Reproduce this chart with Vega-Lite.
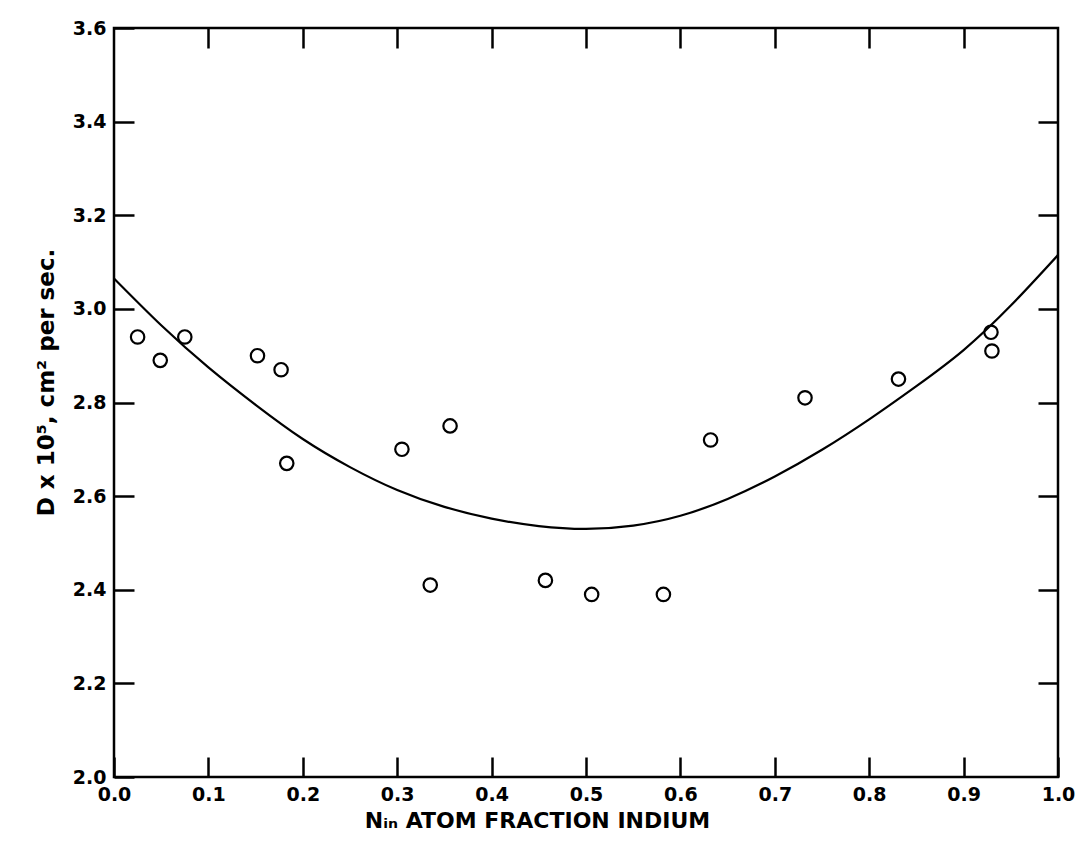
{
  "$schema": "https://vega.github.io/schema/vega-lite/v6.json",
  "autosize": {"type": "none"},
  "padding": {"left": 114, "top": 28, "right": 20, "bottom": 73},
  "width": 944,
  "height": 749,
  "background": "white",
  "config": {
    "view": {"stroke": "black", "strokeWidth": 2.5},
    "axis": {
      "grid": false,
      "domain": false,
      "tickColor": "black",
      "tickWidth": 2.5,
      "tickSize": -20,
      "labelFlush": false,
      "labelFont": "DejaVu Sans",
      "labelFontWeight": "bold",
      "labelFontSize": 19,
      "labelColor": "black",
      "titleFont": "DejaVu Sans",
      "titleFontWeight": "bold",
      "titleColor": "black"
    }
  },
  "datasets": {
    "curve": [
      {"x": 0.0, "d": 3.065},
      {"x": 0.05, "d": 2.965},
      {"x": 0.1, "d": 2.875},
      {"x": 0.15, "d": 2.795},
      {"x": 0.2, "d": 2.722},
      {"x": 0.25, "d": 2.662},
      {"x": 0.3, "d": 2.613},
      {"x": 0.35, "d": 2.577},
      {"x": 0.4, "d": 2.552},
      {"x": 0.45, "d": 2.536},
      {"x": 0.5, "d": 2.53},
      {"x": 0.55, "d": 2.537},
      {"x": 0.6, "d": 2.558},
      {"x": 0.65, "d": 2.594},
      {"x": 0.7, "d": 2.642},
      {"x": 0.75, "d": 2.699},
      {"x": 0.8, "d": 2.764},
      {"x": 0.85, "d": 2.835},
      {"x": 0.9, "d": 2.912},
      {"x": 0.95, "d": 3.007},
      {"x": 1.0, "d": 3.115}
    ],
    "points": [
      {"x": 0.025, "d": 2.94},
      {"x": 0.049, "d": 2.89},
      {"x": 0.075, "d": 2.94},
      {"x": 0.152, "d": 2.9},
      {"x": 0.177, "d": 2.87},
      {"x": 0.183, "d": 2.67},
      {"x": 0.305, "d": 2.7},
      {"x": 0.335, "d": 2.41},
      {"x": 0.356, "d": 2.75},
      {"x": 0.457, "d": 2.42},
      {"x": 0.506, "d": 2.39},
      {"x": 0.582, "d": 2.39},
      {"x": 0.632, "d": 2.72},
      {"x": 0.732, "d": 2.81},
      {"x": 0.831, "d": 2.85},
      {"x": 0.929, "d": 2.95},
      {"x": 0.93, "d": 2.91}
    ]
  },
  "layer": [
    {
      "data": {"name": "curve"},
      "mark": {"type": "line", "color": "black", "strokeWidth": 2.2, "interpolate": "natural", "clip": true},
      "encoding": {
        "x": {
          "field": "x", "type": "quantitative",
          "scale": {"domain": [0, 1], "nice": false, "zero": false},
          "axis": {
            "orient": "bottom",
            "values": [0, 0.1, 0.2, 0.3, 0.4, 0.5, 0.6, 0.7, 0.8, 0.9, 1.0],
            "format": ".1f",
            "labelPadding": 28,
            "title": "Nᵢₙ  ATOM FRACTION INDIUM",
            "titleFontSize": 22,
            "titlePadding": 6,
            "titleX": 423
          }
        },
        "y": {
          "field": "d", "type": "quantitative",
          "scale": {"domain": [2.0, 3.6], "nice": false, "zero": false},
          "axis": {
            "orient": "left",
            "values": [2.0, 2.2, 2.4, 2.6, 2.8, 3.0, 3.2, 3.4, 3.6],
            "format": ".1f",
            "labelPadding": 28,
            "title": "D x 10⁵, cm² per sec.",
            "titleFontSize": 23,
            "titlePadding": 14,
            "titleY": 354
          }
        }
      }
    },
    {
      "data": {"name": "points"},
      "mark": {"type": "point", "shape": "circle", "filled": false, "color": "black", "strokeWidth": 2.2, "size": 180, "opacity": 1},
      "encoding": {
        "x": {
          "field": "x", "type": "quantitative",
          "axis": {"orient": "top", "values": [0.1, 0.2, 0.3, 0.4, 0.5, 0.6, 0.7, 0.8, 0.9], "labels": false, "title": null}
        },
        "y": {
          "field": "d", "type": "quantitative",
          "axis": {"orient": "right", "values": [2.2, 2.4, 2.6, 2.8, 3.0, 3.2, 3.4], "labels": false, "title": null}
        }
      }
    }
  ],
  "resolve": {"axis": {"x": "independent", "y": "independent"}}
}
